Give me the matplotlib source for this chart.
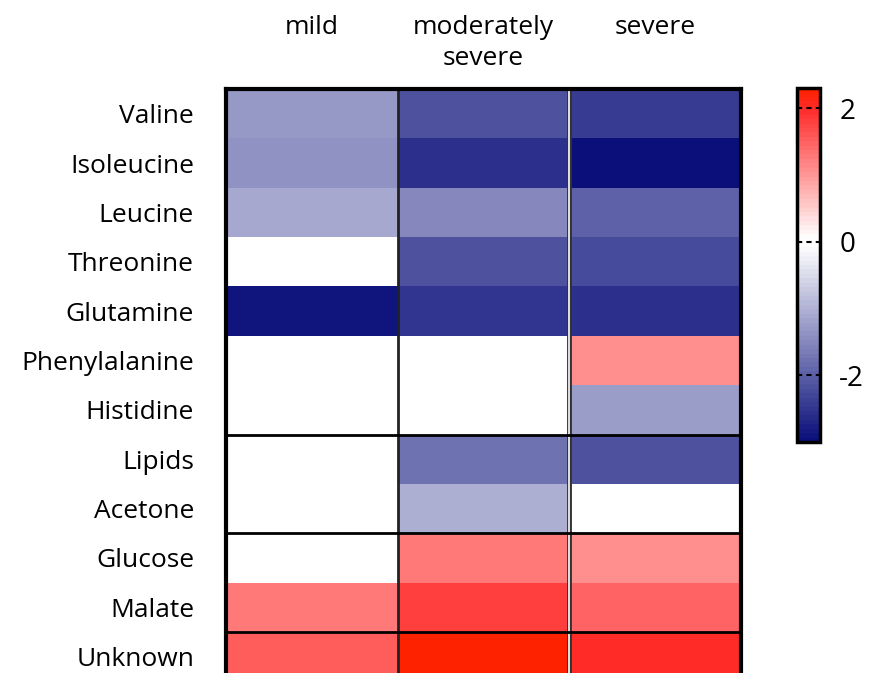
import numpy as np
import matplotlib.pyplot as plt
from matplotlib.colors import LinearSegmentedColormap, Normalize

plt.rcParams['font.family'] = ['Open Sans', 'DejaVu Sans']
plt.rcParams['axes.unicode_minus'] = False

# Data
metabolites = ["Valine", "Isoleucine", "Leucine", "Threonine", "Glutamine",
               "Phenylalanine", "Histidine", "Lipids", "Acetone", "Glucose",
               "Malate", "Unknown"]
groups = ["mild", "moderately\nsevere", "severe"]

mild = [-1.3, -1.4, -1.1, 0.0, -2.9, 0.0, 0.0, 0.0, 0.0, 0.0, 1.25, 1.55]
moderately_severe = [-2.2, -2.6, -1.5, -2.2, -2.5, 0.0, 0.0, -1.8, -1.05, 1.3, 1.8, 2.3]
severe = [-2.45, -3.0, -2.0, -2.25, -2.6, 1.05, -1.25, -2.2, 0.0, 1.1, 1.5, 2.0]

cbar_ticks = [-2, 0, 2]
vmin, vmax = -3.0, 2.3

data = np.column_stack([mild, moderately_severe, severe])

# Colormap: navy -> white -> red, white around zero
def pos(v):
    return (v - vmin) / (vmax - vmin)

cmap = LinearSegmentedColormap.from_list(
    "bwr_custom",
    [(0.0, "#0a0f7a"), (pos(-0.06), "#ffffff"), (pos(0.06), "#ffffff"),
     (pos(2.0), "#ff2c2c"), (1.0, "#ff2200")],
    N=80,
)
norm = Normalize(vmin=vmin, vmax=vmax)

fig = plt.figure(figsize=(8.74, 6.73), dpi=100)
ax = fig.add_axes([0.2586, -0.0125, 0.5892, 0.8803])
ax.pcolormesh(data, cmap=cmap, norm=norm)
ax.set_xlim(0, 3)
ax.set_ylim(len(metabolites), 0)

ax.set_yticks(np.arange(len(metabolites)) + 0.5)
ax.set_yticklabels(metabolites, fontsize=19, color="black")
ax.set_xticks(np.arange(3) + 0.5)
ax.set_xticklabels(groups, fontsize=19, linespacing=1.3, va="top", color="black")
ax.xaxis.tick_top()
ax.tick_params(length=0)
ax.tick_params(axis="y", pad=23)
ax.tick_params(axis="x", pad=53)

# Grid lines
ax.axvline(1, color="#222222", lw=2)
ax.axvline(2, color="#333333", lw=3.5)
ax.axvline(2, color="white", lw=1.2)
for y in [7, 9, 11]:
    ax.axhline(y, color="black", lw=2)
for s in ax.spines.values():
    s.set_linewidth(3)
    s.set_color("black")

# Colorbar
cax = fig.add_axes([0.912, 0.3433, 0.026, 0.5257])
cb = fig.colorbar(plt.cm.ScalarMappable(norm=norm, cmap=cmap), cax=cax)
cb.set_ticks(cbar_ticks)
cb.ax.tick_params(length=0, pad=14, labelsize=20)
cb.outline.set_linewidth(2.5)
for t in cbar_ticks:
    cax.axhline(t, color="black", lw=1.5, ls=(0, (2.5, 2)))

plt.savefig("out.png", dpi=100)
